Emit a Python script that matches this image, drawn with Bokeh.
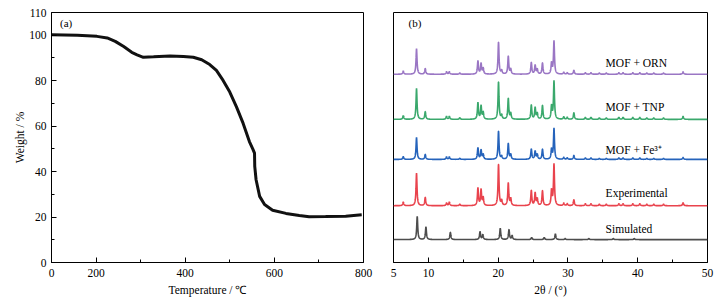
import numpy as np
from bokeh.plotting import figure
from bokeh.layouts import row
from bokeh.models import Range1d, FixedTicker, Label
from bokeh.embed import file_html
from bokeh.resources import INLINE

# ---------------- (a) TGA data ----------------
tga_temp = [100, 158, 202, 225, 243, 262, 280, 292, 306, 329, 366, 396, 418, 437, 455,
            470, 485, 500, 515, 530, 544, 552, 555.5, 556, 559, 567, 578, 596, 626, 656,
            678, 715, 760, 796]
tga_weight = [100.2, 100.0, 99.5, 98.8, 97.3, 95.0, 92.5, 91.4, 90.3, 90.5, 90.9, 90.6, 90.3, 89.2, 87.1,
              84.5, 80.1, 75.0, 68.5, 61.2, 53.2, 49.8, 48.1, 42.3, 36.4, 29.1, 25.5, 23.0, 21.6, 20.7,
              20.1, 20.2, 20.4, 21.0]
tga_xticks = [100, 200, 400, 600, 800]
tga_xtick_labels = {100: "0"}
tga_xminor = [300, 500, 700]
tga_yticks = [0, 20, 40, 60, 80, 100, 110]
tga_yminor = [10, 30, 50, 70, 90]

# ---------------- (b) XRD data ----------------
exp_pos = [6.4, 8.3, 9.55, 12.6, 13.0, 14.5, 17.1, 17.55, 17.85, 20.05, 20.5, 21.45, 21.8,
           24.75, 25.3, 25.6, 26.35, 27.65, 28.0, 29.4, 29.9, 30.85, 32.5, 33.3, 34.5, 35.5,
           37.3, 37.9, 39.3, 40.3, 41.3, 42.3, 43.7, 46.5]
red_h = [3.7, 32.7, 8.3, 2.7, 3.7, 1.5, 17.7, 16, 8, 41.7, 5, 22.7, 7,
         15.3, 12.7, 7, 15, 15, 41.7, 2.5, 2, 6, 2, 2, 1.5, 1.5,
         2, 2, 2, 2, 1.5, 1.5, 1.5, 3]
blue_h = [2.7, 22, 5, 2.5, 2.5, 1, 11.7, 9.3, 5, 28.3, 3, 16, 5,
          10.3, 8.3, 5, 10.3, 10, 31, 2, 1.5, 4, 1.5, 1.5, 1, 1,
          1.5, 1.5, 1.5, 1.5, 1, 1, 1, 2]
green_h = [3.7, 31, 7.7, 3, 3, 1.5, 16.7, 13.3, 7, 37.7, 4, 21, 6,
           14.3, 11.7, 6, 14, 13, 38.3, 2.5, 2, 6.7, 2, 2, 1.5, 1.5,
           2, 2, 2, 2, 1.5, 1.5, 1.5, 3]
purple_h = [3.3, 25.7, 5.7, 2.5, 2.5, 1.2, 13.3, 10.7, 6, 32.3, 3.5, 18, 5,
            11.7, 9, 5, 11.3, 11, 33.3, 2, 1.5, 4, 1.5, 1.5, 1.2, 1.2,
            1.5, 1.5, 1.5, 1.5, 1.2, 1.2, 1.2, 2.5]
sim_pos = [8.4, 9.65, 13.15, 17.4, 17.8, 20.3, 21.55, 22.0, 24.8, 26.6, 28.2, 29.6, 33.0, 36.5, 39.5]
sim_h = [23.3, 12.7, 7.3, 8, 5, 11.3, 10, 4, 2, 2, 5.7, 1, 1, 1, 1]

series_names = ["Simulated", "Experimental", "MOF + Fe³⁺", "MOF + TNP", "MOF + ORN"]
series_offsets = [23, 57, 103.5, 143.7, 189]
series_colors = ["#4d4d4d", "#e9434d", "#2563bb", "#3aa86c", "#9a76c4"]

SERIF = "Liberation Serif"


def style(p):
    p.grid.visible = False
    p.outline_line_color = "black"
    p.outline_line_width = 1
    p.background_fill_color = "white"
    p.border_fill_color = "white"
    for ax in p.xaxis + p.yaxis:
        ax.axis_line_color = "black"
        ax.major_tick_in = 5
        ax.major_tick_out = 0
        ax.minor_tick_in = 3
        ax.minor_tick_out = 0
        ax.major_tick_line_color = "black"
        ax.minor_tick_line_color = "black"
        ax.major_label_text_font = SERIF
        ax.major_label_text_font_size = "11.5px"
        ax.major_label_text_color = "black"
        ax.axis_label_text_font = SERIF
        ax.axis_label_text_font_size = "11.5px"
        ax.axis_label_text_font_style = "normal"
        ax.axis_label_text_color = "black"
    for ax in p.xaxis:
        ax.major_label_standoff = 6
        ax.axis_label_standoff = 4
    for ax in p.yaxis:
        ax.major_label_standoff = 5
        ax.axis_label_standoff = 0


def lbl(p, **kw):
    base = dict(text_font=SERIF, text_font_size="11.5px", text_color="black",
                text_baseline="middle")
    base.update(kw)
    p.add_layout(Label(**base))


# ---------- panel (a) ----------
p1 = figure(width=378, height=298, x_range=Range1d(100, 800), y_range=Range1d(0, 110),
            output_backend="svg", toolbar_location=None,
            min_border_left=51, min_border_right=15, min_border_top=12, min_border_bottom=35)
p1.line(tga_temp, tga_weight, line_width=3, color="#111111")
p1.xaxis.ticker = FixedTicker(ticks=tga_xticks, minor_ticks=tga_xminor)
p1.xaxis.major_label_overrides = tga_xtick_labels
p1.yaxis.ticker = FixedTicker(ticks=tga_yticks, minor_ticks=tga_yminor)
p1.xaxis.axis_label = "Temperature / ℃"
p1.yaxis.axis_label = "Weight / %"
style(p1)
lbl(p1, x=119, y=105.3, text="(a)", text_font_size="11px")

# ---------- panel (b) ----------
p2 = figure(width=344, height=298, x_range=Range1d(5, 50), y_range=Range1d(0, 251),
            output_backend="svg", toolbar_location=None,
            min_border_left=15, min_border_right=15, min_border_top=12, min_border_bottom=35)
grid = np.arange(5, 50.0001, 0.02)
hw = 0.085
peak_sets = [(sim_pos, sim_h), (exp_pos, red_h), (exp_pos, blue_h), (exp_pos, green_h), (exp_pos, purple_h)]
for (pos, hts), off, col in zip(peak_sets, series_offsets, series_colors):
    y = np.full_like(grid, off, dtype=float)
    for c, h in zip(pos, hts):
        y += h / (1 + ((grid - c) / hw) ** 2)
    p2.line(grid, y, line_width=1.6, color=col)

p2.xaxis.ticker = FixedTicker(ticks=[5, 10, 20, 30, 40, 50], minor_ticks=[15, 25, 35, 45])
p2.xaxis.axis_label = "2θ / (°)"
style(p2)
p2.yaxis.visible = False

label_y = [34, 70, 113, 156, 200]
for name, ly in zip(series_names, label_y):
    lbl(p2, x=35.4, y=ly, text=name)
lbl(p2, x=7.15, y=240.3, text="(b)", text_font_size="11px")

layout = row(p1, p2)
open("out.html", "w").write(file_html(layout, INLINE))
